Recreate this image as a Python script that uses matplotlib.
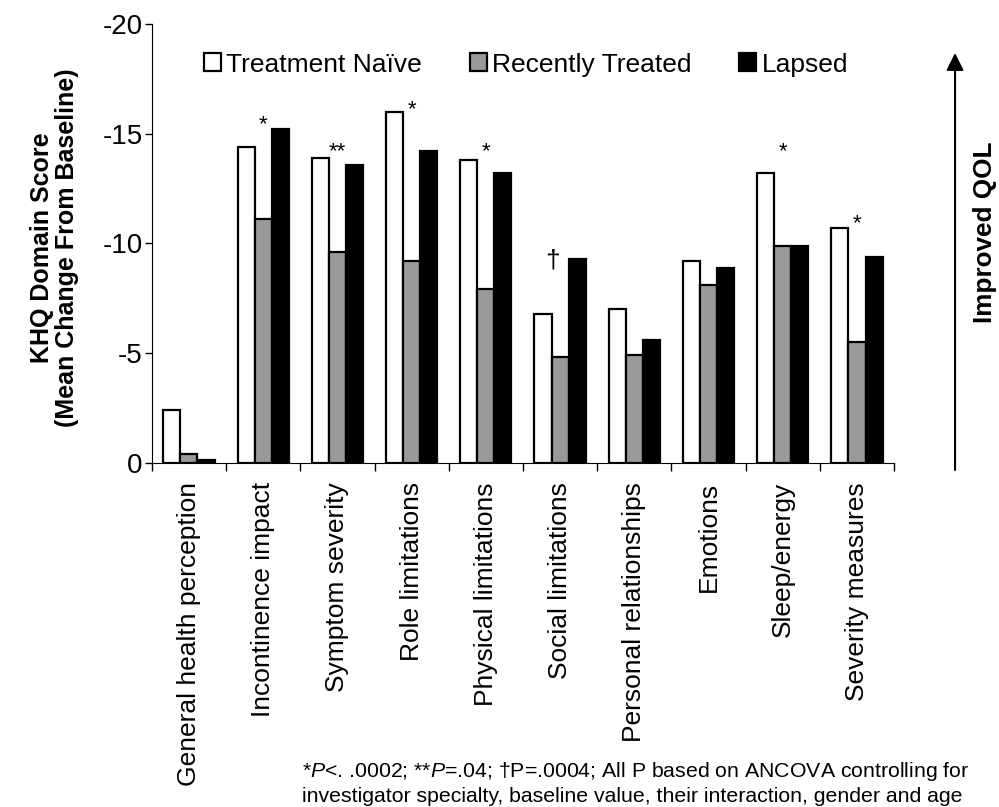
import numpy as np
import matplotlib
matplotlib.use("Agg")
import matplotlib.pyplot as plt
from matplotlib.patches import FancyArrowPatch

plt.rcParams['font.family'] = ['Liberation Sans', 'DejaVu Sans']
plt.rcParams['mathtext.fontset'] = 'custom'
plt.rcParams['mathtext.rm'] = 'Liberation Sans'
plt.rcParams['mathtext.it'] = 'Liberation Sans:italic'

categories = ["General health perception", "Incontinence impact", "Symptom severity",
              "Role limitations", "Physical limitations", "Social limitations",
              "Personal relationships", "Emotions", "Sleep/energy", "Severity measures"]
naive = [-2.4, -14.4, -13.9, -16.0, -13.8, -6.8, -7.0, -9.2, -13.2, -10.7]
recent = [-0.4, -11.1, -9.6, -9.2, -7.9, -4.8, -4.9, -8.1, -9.9, -5.5]
lapsed = [-0.1, -15.2, -13.6, -14.2, -13.2, -9.3, -5.6, -8.9, -9.9, -9.4]
marks = ["", "*", "**", "*", "*", "\u2020", "", "", "*", "*"]
mark_y = [0, -15.4, -14.2, -16.1, -14.2, -9.2, 0, 0, -14.2, -10.9]
yticks = [0, -5, -10, -15, -20]

fig = plt.figure(figsize=(9.99, 8.07), dpi=100)
ax = fig.add_axes([0.152, 0.4267, 0.743, 0.5433])

x = np.arange(len(categories))
w = 0.23
ax.bar(x - w, naive, w, color='white', edgecolor='black', linewidth=1.6, label='Treatment Na\u00efve')
ax.bar(x, recent, w, color='#999999', edgecolor='black', linewidth=1.6, label='Recently Treated')
ax.bar(x + w, lapsed, w, color='black', edgecolor='black', linewidth=1.6, label='Lapsed')

for i, m in enumerate(marks):
    if m == "\u2020":
        ax.text(x[i] - 0.1, mark_y[i], m, ha='center', va='center', fontsize=19)
    elif m:
        ax.text(x[i], mark_y[i], m, ha='center', va='center', fontsize=16)

ax.set_xlim(-0.5, len(categories) - 0.5)
ax.set_ylim(0, -20)
ax.set_yticks(yticks)
ax.set_yticklabels([str(v) for v in yticks], fontsize=20)
ax.set_xticks(np.arange(len(categories) + 1) - 0.5)
ax.set_xticklabels([])
ax.set_xticks(x, minor=True)
ax.set_xticklabels(categories, minor=True, rotation=90, fontsize=19, va='top', ha='center')
ax.tick_params(axis='x', which='minor', length=0, pad=14)
ax.tick_params(axis='x', which='major', length=6, width=1, direction='out')
ax.tick_params(axis='y', length=5, width=1, direction='out', pad=1.5)
for s in ['top', 'right']:
    ax.spines[s].set_visible(False)

ax.legend(loc='center', bbox_to_anchor=(0.504, 0.908), ncol=3, frameon=False,
          fontsize=19, handlelength=0.65, handleheight=0.65, handletextpad=0.2,
          columnspacing=1.8)

fig.text(0.0545, 0.693, "KHQ Domain Score\n(Mean Change From Baseline)", rotation=90,
         ha='center', va='center', fontsize=18, fontweight='bold', linespacing=1.05)
fig.text(0.986, 0.712, "Improved QOL", rotation=90, ha='center', va='center',
         fontsize=18.8, fontweight='bold')
fig.patches.append(FancyArrowPatch(
    (0.956, 1 - 470 / 807), (0.956, 1 - 53 / 807), transform=fig.transFigure,
    arrowstyle='-|>,head_length=0.7,head_width=0.35', mutation_scale=15,
    shrinkA=0, shrinkB=0, color='black', linewidth=1.5))

# footnote, scaled so the first line spans the same width as in the original
fn1 = fig.text(302 / 999, 1 - 777 / 807,
               "*$\\it{P}$<. .0002; **$\\it{P}$=.04; \u2020P=.0004; All P based on ANCOVA controlling for",
               ha='left', va='baseline', fontsize=15)
fn2 = fig.text(302 / 999, 1 - 802 / 807,
               "investigator specialty, baseline value, their interaction, gender and age",
               ha='left', va='baseline', fontsize=15)
fig.canvas.draw()
scale = 671 / fn1.get_window_extent().width
fn1.set_fontsize(15 * scale)
fn2.set_fontsize(15 * scale)

fig.savefig("out.png", dpi=100)
